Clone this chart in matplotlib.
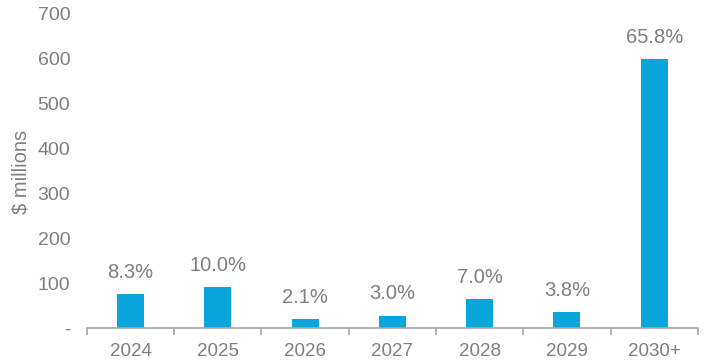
import numpy as np
import matplotlib.pyplot as plt

plt.rcParams['font.family'] = ['Liberation Sans', 'DejaVu Sans']

# data
years = ['2024', '2025', '2026', '2027', '2028', '2029', '2030+']
values = [75.5, 91, 19, 27, 64, 34.5, 599]
shares = ['8.3%', '10.0%', '2.1%', '3.0%', '7.0%', '3.8%', '65.8%']
yticks = [0, 100, 200, 300, 400, 500, 600, 700]
ytick_labels = ['-', '100', '200', '300', '400', '500', '600', '700']

grey = '#7f7f7f'
bar_col = '#09a6de'

fig = plt.figure(figsize=(7.07, 3.64), dpi=100)
ax = fig.add_axes([0.123, 0.099, 0.864, 0.863])

x = np.arange(len(years))
bars = ax.bar(x, values, width=0.31, color=bar_col, zorder=2)

for b, s in zip(bars, shares):
    ax.annotate(s, (b.get_x() + b.get_width() / 2, b.get_height()),
                xytext=(0, 9), textcoords='offset points',
                ha='center', va='bottom', fontsize=14.5, color=grey)

ax.set_xlim(-0.5, len(years) - 0.5)
ax.set_ylim(0, 700)
ax.set_xticks(x)
ax.set_xticklabels(years)
ax.set_xticks(np.arange(-0.5, len(years)), minor=True)
ax.set_yticks(yticks)
ax.set_yticklabels(ytick_labels)

ax.tick_params(axis='x', which='major', length=0, labelsize=13.5,
               labelcolor=grey, pad=11)
ax.tick_params(axis='x', which='minor', length=5, color='#a6a6a6', width=1.2)
ax.tick_params(axis='y', length=0, labelsize=14, labelcolor=grey, pad=12)

for side in ['top', 'right', 'left']:
    ax.spines[side].set_visible(False)
ax.spines['bottom'].set_color('#a6a6a6')
ax.spines['bottom'].set_linewidth(1.2)

fig.text(21 / 707, 1 - 172 / 364, '$ millions', rotation=90,
         ha='center', va='center', fontsize=14.5, color=grey)

fig.savefig('out.png', dpi=100)
